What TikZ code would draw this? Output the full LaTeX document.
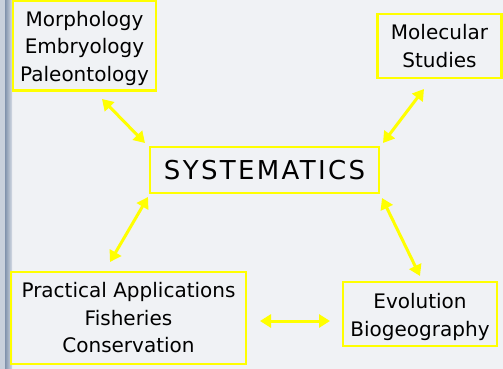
\documentclass[tikz,border=0pt]{standalone}
\usepackage{fontspec}
\setmainfont{DejaVu Sans}
\usepackage{xcolor}
\usetikzlibrary{arrows.meta}
\definecolor{boxyellow}{RGB}{255,255,0}
\definecolor{slidebg}{RGB}{240,242,245}
\definecolor{stripedark}{RGB}{128,146,172}
\definecolor{stripelight}{RGB}{200,208,220}

\tikzset{
	topic/.style={draw=boxyellow, line width=2.5pt, align=center, inner sep=0pt, text=black,
		font=\fontsize{20}{27.5}\selectfont},
	link/.style={boxyellow, line width=3pt,
		{Triangle[length=11pt,width=13pt]}-{Triangle[length=11pt,width=13pt]}}
}

\begin{document}
\begin{tikzpicture}[x=1pt,y=-1pt]
					\useasboundingbox (0,0) rectangle (503,369);
					\fill[slidebg] (0,0) rectangle (503,369);
					\fill[stripelight] (0,0) rectangle (5,369);
					\fill[left color=stripedark, right color=stripelight!70!slidebg] (5,0) rectangle (12,369);
					
					\node[topic, minimum width=143pt, minimum height=90pt] (morph) at (84.5,45.5)
						{\rule{0pt}{21pt}Morphology\\Embryology\\Paleontology};
					\node[topic, minimum width=124pt, minimum height=64pt] (molec) at (439.5,46)
						{Molecular\\Studies};
					\node[topic, minimum width=229pt, minimum height=46pt,
						font=\fontsize{26}{30}\selectfont\addfontfeatures{LetterSpace=9}] (syst) at (264.5,170)
						{SYSTEMATICS};
					\node[topic, minimum width=235pt, minimum height=92pt] (pract) at (128.5,318)
						{Practical Applications\\Fisheries\\Conservation};
					\node[topic, minimum width=154pt, minimum height=64pt] (evol) at (420,314)
						{\rule{0pt}{21pt}Evolution\\Biogeography};
					
					\coordinate (m1) at (102,99);
					\coordinate (m2) at (145,143);
					\coordinate (n1) at (424,89);
					\coordinate (n2) at (383,143);
					\coordinate (p1) at (148,197);
					\coordinate (p2) at (110,262);
					\coordinate (e1) at (382,198);
					\coordinate (e2) at (420,276);
					\coordinate (h1) at (260,321);
					\coordinate (h2) at (330,321);
					
					\draw[link] (m1) -- (m2);
					\draw[link] (n1) -- (n2);
					\draw[link] (p1) -- (p2);
					\draw[link] (e1) -- (e2);
					\draw[link] (h1) -- (h2);
				\end{tikzpicture}
\end{document}
